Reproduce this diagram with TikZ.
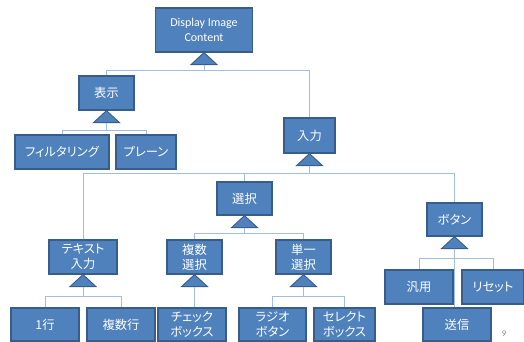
\documentclass[tikz,border=0pt]{standalone}
\usepackage{fontspec}
\newfontfamily\jpfont[RawFeature={+palt}]{Noto Sans CJK JP}
\newfontfamily\latfont{Carlito}
\usetikzlibrary{calc}
\definecolor{boxfill}{HTML}{4F81BD}
\definecolor{boxline}{HTML}{385D8A}
\definecolor{connline}{HTML}{A3BDE0}
\tikzset{
  blk/.style={draw=boxline, fill=boxfill, line width=1.2pt, text=white, align=center,
    inner sep=0pt, font=\jpfont\fontsize{12.3}{15}\selectfont},
  tri/.style={draw=boxline, fill=boxfill, line width=0.9pt, line join=miter},
  conn/.style={draw=connline, line width=1pt},
}
\newcommand{\mktri}[1]{%
  \path[tri] (#1.south) -- ++(13,12) -- ++(-26,0) -- cycle;
  \coordinate (#1T) at ($(#1.south)+(0,12)$);}
\begin{document}
\begin{tikzpicture}[x=1pt,y=-1pt]
\useasboundingbox (0,0) rectangle (524,342);
% nodes
\node[blk, minimum width=97pt, minimum height=44pt, font=\latfont\fontsize{12}{15}\selectfont] (D) at (204,30) {Display Image\\Content};
\node[blk, minimum width=55pt, minimum height=34pt] (H) at (106.5,93) {表示};
\node[blk, minimum width=94pt, minimum height=34pt] (F) at (62,152) {フィルタリング};
\node[blk, minimum width=60pt, minimum height=34pt] (P) at (146,152) {プレーン};
\node[blk, minimum width=51pt, minimum height=35pt] (I) at (309.5,135.5) {入力};
\node[blk, minimum width=68pt, minimum height=34pt] (TI) at (83,257) {テキスト\\入力};
\node[blk, minimum width=55pt, minimum height=33pt] (S) at (244.5,198.5) {選択};
\node[blk, minimum width=55pt, minimum height=33pt] (B) at (454.5,219.5) {ボタン};
\node[blk, minimum width=55pt, minimum height=34pt] (M) at (194.5,257) {複数\\選択};
\node[blk, minimum width=55pt, minimum height=34pt] (U) at (303.5,257) {単一\\選択};
\node[blk, minimum width=68pt, minimum height=33pt] (L1) at (45,324.5) {1行};
\node[blk, minimum width=68pt, minimum height=33pt] (L2) at (121,324.5) {複数行};
\node[blk, minimum width=68pt, minimum height=33pt] (CB) at (192,324.5) {チェック\\ボックス};
\node[blk, minimum width=67pt, minimum height=33pt] (RB) at (272.5,324.5) {ラジオ\\ボタン};
\node[blk, minimum width=61pt, minimum height=33pt] (SB) at (344.5,324.5) {セレクト\\ボックス};
\node[blk, minimum width=68pt, minimum height=34pt] (G) at (419,287) {汎用};
\node[blk, minimum width=62pt, minimum height=34pt] (R) at (493,287) {リセット};
\node[blk, minimum width=68pt, minimum height=33pt] (SD) at (457,324.5) {送信};
\node[text=gray, font=\latfont\fontsize{8.5}{9}\selectfont] (pg) at (504,333.5) {9};
% triangles
\mktri{D}\mktri{H}\mktri{I}\mktri{S}\mktri{B}\mktri{TI}\mktri{M}\mktri{U}
% connectors
\draw[conn] (DT) -- ++(0,6) -| (H.north);
\draw[conn] (DT) -- ++(0,6) -| (I.north);
\draw[conn] (HT) -- ++(0,8) -| (F.north);
\draw[conn] (HT) -- ++(0,8) -| (P.north);
\draw[conn] (IT) -- ++(0,8) -| (TI.north);
\draw[conn] (IT) -- ++(0,8) -| (S.north);
\draw[conn] (IT) -- ++(0,8) -| (B.north);
\draw[conn] (ST) -- ++(0,6) -| (M.north);
\draw[conn] (ST) -- ++(0,6) -| (U.north);
\draw[conn] (TIT) -- ++(0,10) -| (L1.north);
\draw[conn] (TIT) -- ++(0,10) -| (L2.north);
\draw[conn] (UT) -- ++(0,10) -| (RB.north);
\draw[conn] (UT) -- ++(0,10) -| (SB.north);
\draw[conn] (MT) -- (MT |- CB.north);
\draw[conn] (BT) -- ++(0,10) -| (G.north);
\draw[conn] (BT) -- ++(0,10) -| (R.north);
\draw[conn] (BT) -- (BT |- SD.north);
\end{tikzpicture}
\end{document}
